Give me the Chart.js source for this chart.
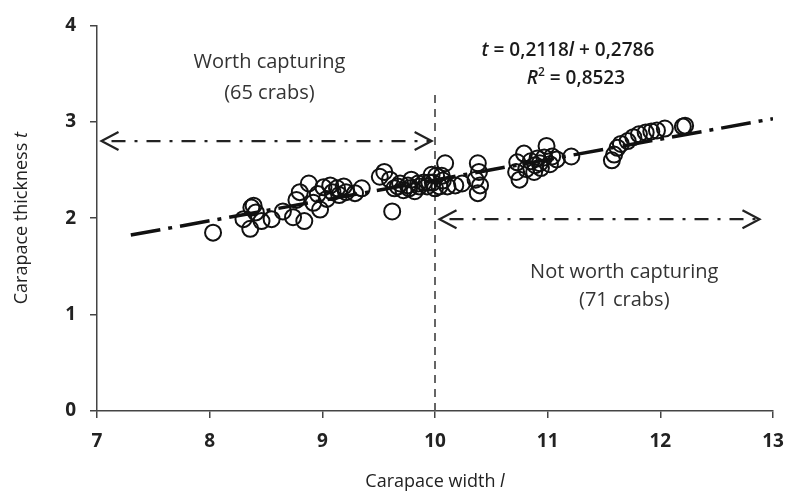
<!DOCTYPE html>
<html>
<head>
<meta charset="utf-8">
<script src="https://cdn.jsdelivr.net/npm/chart.js@4.4.0/dist/chart.umd.min.js"></script>
<style>
  html, body { margin: 0; padding: 0; background: #ffffff; }
  canvas { display: block; }
</style>
</head>
<body>
<canvas id="myChart" width="786" height="497"></canvas>
<script>
const widths = [
    8.03, 8.30, 8.36, 8.37, 8.41, 8.39, 8.46, 8.55, 8.65, 8.74,
    8.77, 8.80, 8.84, 8.88, 8.92, 8.96, 8.98, 9.01, 9.04, 9.07,
    9.09, 9.13, 9.15, 9.19, 9.21, 9.29, 9.35, 9.51, 9.55, 9.60,
    9.62, 9.64, 9.67, 9.69, 9.72, 9.76, 9.77, 9.79, 9.82, 9.85,
    9.86, 9.90, 9.93, 9.95, 9.97, 9.98, 10.00, 10.01, 10.04, 10.06,
    10.07, 10.09, 10.11, 10.18, 10.24, 10.36, 10.38, 10.39, 10.40, 10.38,
    10.72, 10.73, 10.75, 10.79, 10.81, 10.85, 10.88, 10.89, 10.91, 10.93,
    10.94, 10.97, 10.99, 11.02, 11.04, 11.08, 11.21, 11.57, 11.59, 11.62,
    11.65, 11.71, 11.76, 11.81, 11.87, 11.92, 11.97, 12.04, 12.20, 12.22
];
const thicknesses = [
    1.85, 1.99, 1.89, 2.11, 2.06, 2.13, 1.97, 1.99, 2.07, 2.01,
    2.19, 2.27, 1.97, 2.36, 2.16, 2.25, 2.09, 2.32, 2.20, 2.34,
    2.27, 2.31, 2.24, 2.33, 2.27, 2.26, 2.31, 2.43, 2.48, 2.40,
    2.07, 2.31, 2.33, 2.36, 2.29, 2.34, 2.31, 2.40, 2.28, 2.36,
    2.33, 2.37, 2.33, 2.37, 2.45, 2.37, 2.31, 2.44, 2.33, 2.44,
    2.39, 2.57, 2.33, 2.34, 2.36, 2.40, 2.57, 2.48, 2.34, 2.26,
    2.48, 2.58, 2.40, 2.67, 2.51, 2.59, 2.48, 2.55, 2.62, 2.57,
    2.52, 2.63, 2.75, 2.56, 2.64, 2.61, 2.64, 2.60, 2.66, 2.73,
    2.77, 2.80, 2.84, 2.87, 2.89, 2.90, 2.91, 2.93, 2.95, 2.96
];

const slope = 0.2118;
const intercept = 0.2786;
const rSquared = 0.8523;
const threshold = 10;
const worthCount = 65;
const notWorthCount = 71;
const trendRange = [7.3, 13];
const xTicks = [7, 8, 9, 10, 11, 12, 13];
const yTicks = [0, 1, 2, 3, 4];

const FONT = "'Open Sans'";
Chart.defaults.font.family = FONT;
Chart.defaults.color = "#222222";

const points = widths.map((w, i) => ({ x: w, y: thicknesses[i] }));
const trend = trendRange.map(x => ({ x: x, y: slope * x + intercept }));

function comma(v) {
    return String(v).replace('.', ',');
}

// draw a run of text pieces with mixed styles
function richText(ctx, parts, x, y, align) {
    let total = 0;
    parts.forEach(p => {
        ctx.font = p.font;
        p.w = ctx.measureText(p.t).width;
        total += p.w;
    });
    let cx = align === 'right' ? x - total : align === 'center' ? x - total / 2 : x;
    parts.forEach(p => {
        ctx.font = p.font;
        ctx.fillText(p.t, cx, y + (p.dy || 0));
        cx += p.w;
    });
}

function arrow(ctx, x1, x2, y) {
    ctx.save();
    ctx.strokeStyle = "#222";
    ctx.lineWidth = 2.2;
    ctx.setLineDash([14, 9, 3, 9]);
    ctx.lineDashOffset = -8;
    ctx.beginPath();
    ctx.moveTo(x1 + 2, y);
    ctx.lineTo(x2 - 2, y);
    ctx.stroke();
    ctx.setLineDash([]);
    ctx.beginPath();
    ctx.moveTo(x1 + 17, y - 9);
    ctx.lineTo(x1, y);
    ctx.lineTo(x1 + 17, y + 9);
    ctx.moveTo(x2 - 17, y - 9);
    ctx.lineTo(x2, y);
    ctx.lineTo(x2 - 17, y + 9);
    ctx.stroke();
    ctx.restore();
}

const overlay = {
    id: 'overlay',
    beforeDatasetsDraw(chart) {
        const ctx = chart.ctx;
        const xs = chart.scales.x, ys = chart.scales.y;
        // threshold line
        ctx.save();
        ctx.strokeStyle = "#555";
        ctx.lineWidth = 1.8;
        ctx.setLineDash([8, 6]);
        ctx.beginPath();
        ctx.moveTo(xs.getPixelForValue(threshold), ys.getPixelForValue(0));
        ctx.lineTo(xs.getPixelForValue(threshold), ys.getPixelForValue(3.31));
        ctx.stroke();
        ctx.restore();
        arrow(ctx, xs.getPixelForValue(7.04), xs.getPixelForValue(9.97), ys.getPixelForValue(2.8));
        arrow(ctx, xs.getPixelForValue(10.04), xs.getPixelForValue(12.88), ys.getPixelForValue(1.99));
    },
    afterDraw(chart) {
        const ctx = chart.ctx;
        const xs = chart.scales.x, ys = chart.scales.y;
        const area = chart.chartArea;
        ctx.save();
        ctx.fillStyle = "#333";
        ctx.textBaseline = 'middle';
        ctx.textAlign = 'left';
        const body = "20px " + FONT;
        richText(ctx, [{ t: "Worth capturing", font: body }], xs.getPixelForValue(8.53), ys.getPixelForValue(3.62), 'center');
        richText(ctx, [{ t: "(" + worthCount + " crabs)", font: body }], xs.getPixelForValue(8.53), ys.getPixelForValue(3.30), 'center');
        richText(ctx, [{ t: "Not worth capturing", font: body }], xs.getPixelForValue(11.68), ys.getPixelForValue(1.44), 'center');
        richText(ctx, [{ t: "(" + notWorthCount + " crabs)", font: body }], xs.getPixelForValue(11.68), ys.getPixelForValue(1.15), 'center');

        // regression equation
        ctx.fillStyle = "#1a1a1a";
        const b = "600 19px " + FONT, bi = "italic 600 19px " + FONT, sup = "600 12px " + FONT;
        const ex = xs.getPixelForValue(11.18);
        richText(ctx, [
            { t: "t", font: bi }, { t: " = " + comma(slope), font: b },
            { t: "l", font: bi }, { t: " + " + comma(intercept), font: b }
        ], ex, ys.getPixelForValue(3.74), 'center');
        richText(ctx, [
            { t: "R", font: bi }, { t: "2", font: sup, dy: -6 },
            { t: " = " + comma(rSquared), font: b }
        ], ex + 8, ys.getPixelForValue(3.45), 'center');

        // axis titles
        ctx.fillStyle = "#222";
        const tf = "18px " + FONT, tfi = "italic 18px " + FONT;
        richText(ctx, [{ t: "Carapace width ", font: tf }, { t: "l", font: tfi }],
            (area.left + area.right) / 2, 482, 'center');
        ctx.translate(22, (area.top + area.bottom) / 2);
        ctx.rotate(-Math.PI / 2);
        richText(ctx, [{ t: "Carapace thickness ", font: tf }, { t: "t", font: tfi }], 0, 0, 'center');
        ctx.restore();
    }
};

const config = {
    type: 'scatter',
    data: {
        datasets: [
            {
                label: 'crabs',
                data: points,
                pointStyle: 'circle',
                pointRadius: 8,
                pointHoverRadius: 8,
                borderWidth: 2,
                borderColor: "#111111",
                backgroundColor: "rgba(0,0,0,0)",
            },
            {
                label: 'trend',
                data: trend,
                showLine: true,
                pointRadius: 0,
                borderWidth: 3.5,
                borderColor: "#111111",
                borderDash: [30, 8, 4, 8],
                fill: false,
            },
        ],
    },
    options: {
        responsive: false,
        animation: false,
        layout: { padding: { top: 25, right: 13, left: 0, bottom: 0 } },
        plugins: {
            legend: { display: false },
            tooltip: { enabled: false },
        },
        scales: {
            x: {
                type: 'linear',
                min: xTicks[0],
                max: xTicks[xTicks.length - 1],
                afterBuildTicks: s => { s.ticks = xTicks.map(v => ({ value: v })); },
                afterFit: s => { s.height = 86; s.paddingRight = 0; s.paddingLeft = 0; },
                border: { color: "#444", width: 1.5 },
                grid: { drawOnChartArea: false, tickLength: 7, color: "#444", lineWidth: 1.5 },
                ticks: { padding: 12, font: { size: 19, weight: 'bold' }, color: "#222" },
            },
            y: {
                type: 'linear',
                min: yTicks[0],
                max: yTicks[yTicks.length - 1],
                afterBuildTicks: s => { s.ticks = yTicks.map(v => ({ value: v })); },
                afterFit: s => { s.width = 97; },
                border: { color: "#444", width: 1.5 },
                grid: { drawOnChartArea: false, tickLength: 7, color: "#444", lineWidth: 1.5 },
                ticks: { padding: 14, font: { size: 19, weight: 'bold' }, color: "#222" },
            },
        },
    },
    plugins: [overlay],
};

const myChart = new Chart(document.getElementById("myChart").getContext("2d"), config);
</script>
</body>
</html>
